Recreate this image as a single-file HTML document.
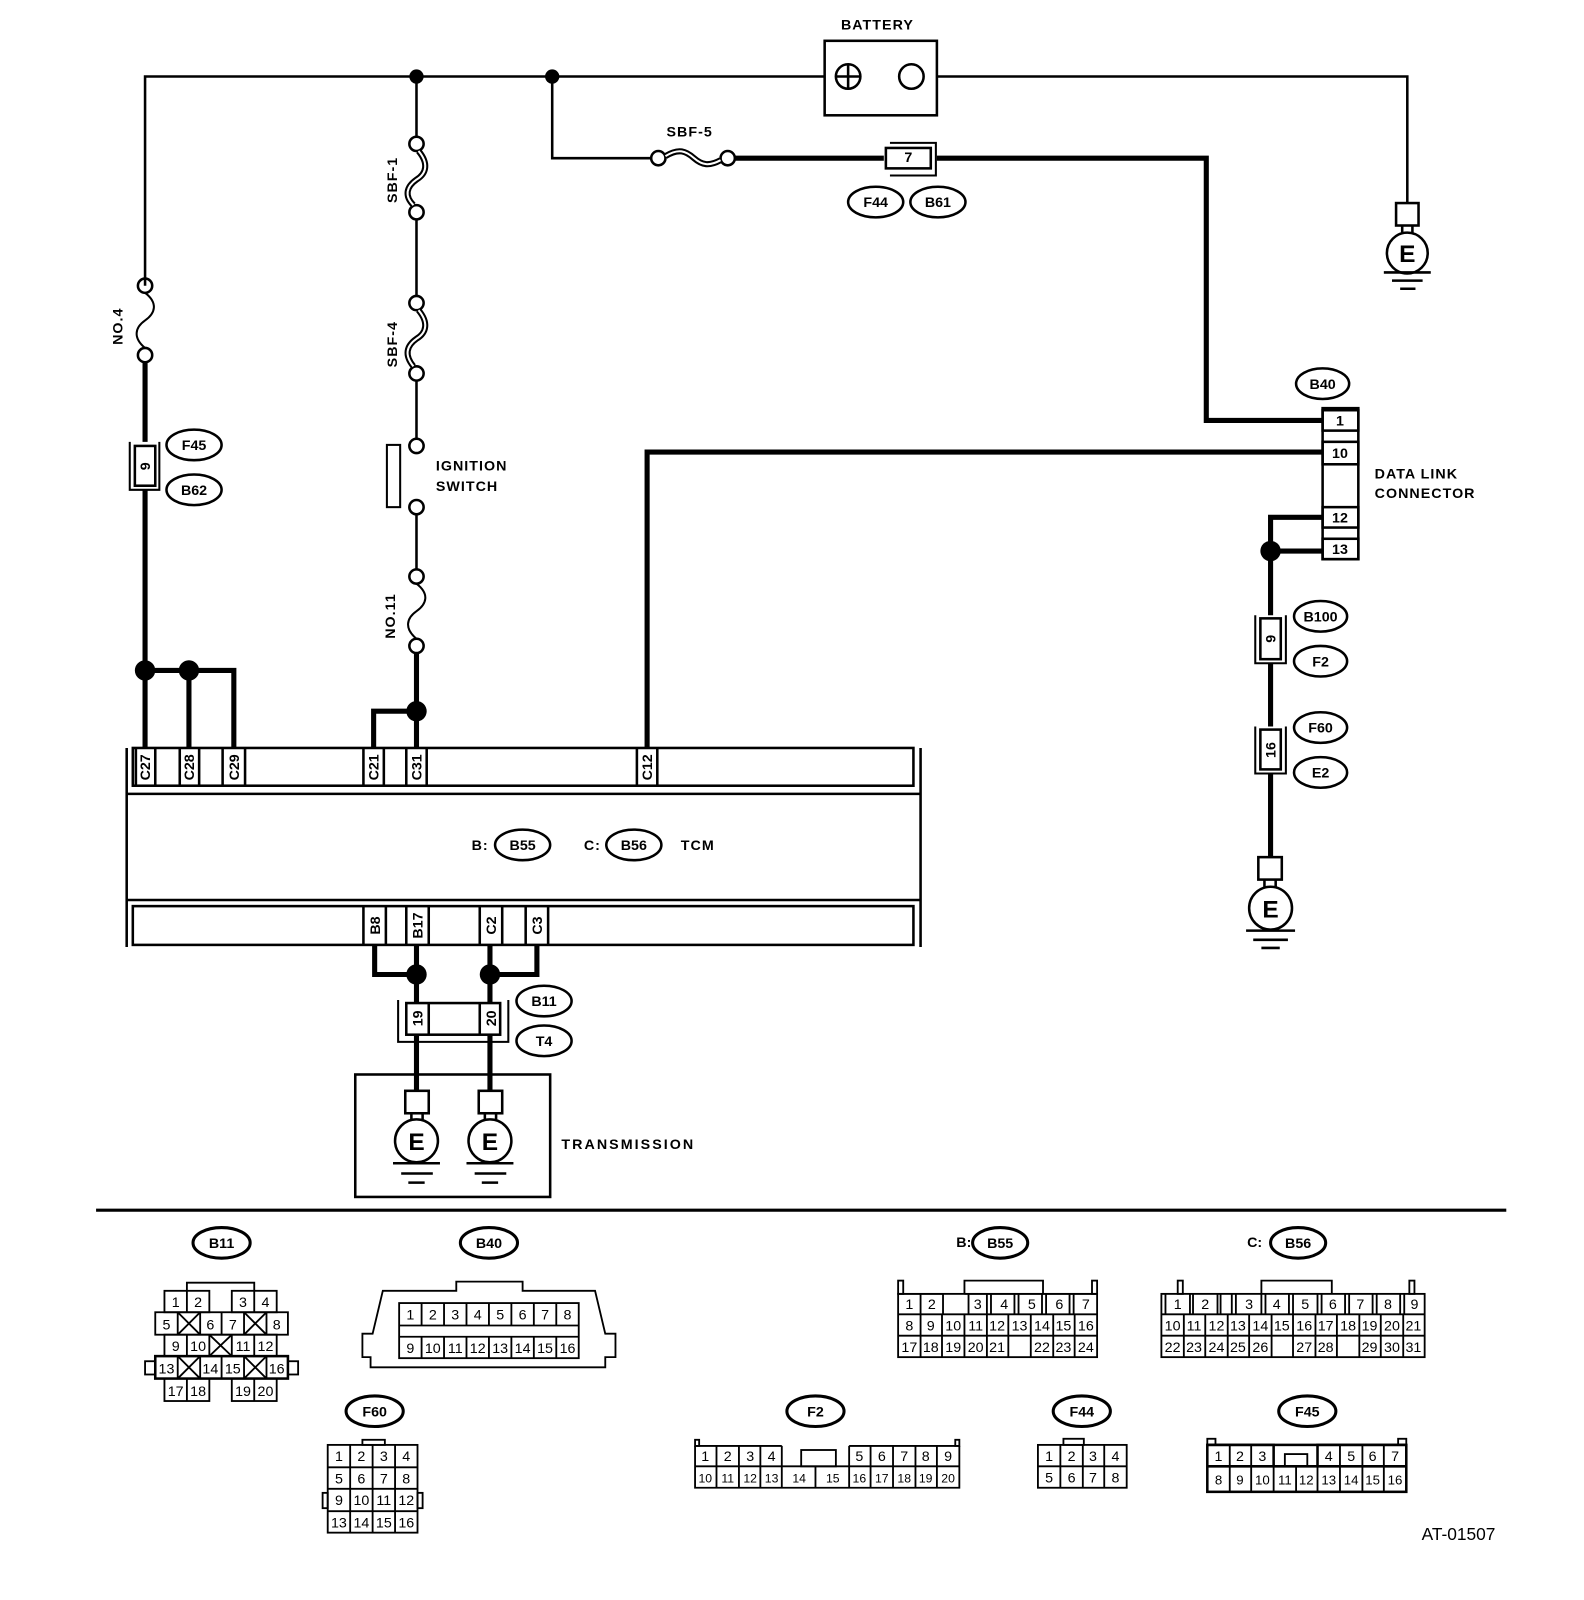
<!DOCTYPE html>
<html><head><meta charset="utf-8"><style>
html,body{margin:0;padding:0;background:#fff}
svg{display:block}
text{font-family:"Liberation Sans",sans-serif;font-weight:bold;fill:#000}
text.n,.n text{font-weight:normal}
</style></head><body>
<svg width="1584" height="1600" viewBox="0 0 1552 1568" xmlns="http://www.w3.org/2000/svg">
<g fill="none" stroke="#000" stroke-width="2.5">
<path d="M142,280 V75 H808 M918,75 H1379 V199"/>
<rect x="808" y="40" width="110" height="73"/>
<circle cx="831" cy="75" r="12"/><path d="M831,63 V87 M819,75 H843"/>
<circle cx="893" cy="75" r="12"/>
<path d="M541,75 V155 H638"/>
<circle cx="645" cy="155" r="7"/><circle cx="713" cy="155" r="7"/>
<path d="M652,153 C665,145 672,148 680,155 C688,162 695,163 706,157" stroke-width="6"/>
<path d="M652,153 C665,145 672,148 680,155 C688,162 695,163 706,157" stroke="#fff" stroke-width="2"/>
<path d="M720,155 H866 M918,155 H1182 V412 H1296" stroke-width="5"/>
<path d="M872,140 H917 V172 H872" stroke-width="2"/>
<rect x="868" y="145" width="44" height="20" fill="#fff" stroke-width="2.5"/>
<circle cx="142" cy="280" r="7"/><circle cx="142" cy="348" r="7"/>
<path d="M142,287 C155,297 152,307 142,314 C132,321 130,331 142,341" stroke-width="2"/>
<path d="M142,355 V433 M142,480 V733" stroke-width="5"/>
<path d="M127,433 V480 H156 V433" stroke-width="2"/>
<rect x="132" y="437" width="20" height="39" fill="#fff" stroke-width="2.5"/>
<path d="M142,657 H229 V733 M185,657 V733" stroke-width="5"/>
<path d="M408,75 V134 M408,215 V290 M408,373 V430 M408,504 V558"/>
<circle cx="408" cy="141" r="7"/><circle cx="408" cy="208" r="7"/>
<circle cx="408" cy="297" r="7"/><circle cx="408" cy="366" r="7"/>
<path d="M410,148 C420,160 418,170 408,176 C398,183 396,192 405,201" stroke-width="6"/>
<path d="M410,148 C420,160 418,170 408,176 C398,183 396,192 405,201" stroke="#fff" stroke-width="2"/>
<path d="M410,304 C420,316 418,326 408,332 C398,339 396,348 405,359" stroke-width="6"/>
<path d="M410,304 C420,316 418,326 408,332 C398,339 396,348 405,359" stroke="#fff" stroke-width="2"/>
<circle cx="408" cy="437" r="7"/><rect x="379" y="436" width="13" height="61" stroke-width="2"/>
<circle cx="408" cy="497" r="7"/>
<circle cx="408" cy="565" r="7"/><circle cx="408" cy="633" r="7"/>
<path d="M408,572 C421,582 418,592 408,599 C398,606 396,616 408,626" stroke-width="2"/>
<path d="M408,640 V733 M408,697 H366 V733" stroke-width="5"/>
<path d="M634,733 V443 H1296" stroke-width="5"/>
<rect x="1296" y="400" width="35" height="148" stroke-width="2.5"/>
<rect x="1296" y="402" width="35" height="20" stroke-width="2.5"/>
<rect x="1296" y="433" width="35" height="22" stroke-width="2.5"/>
<rect x="1296" y="497" width="35" height="20" stroke-width="2.5"/>
<rect x="1296" y="528" width="35" height="20" stroke-width="2.5"/>
<path d="M1296,507 H1245 V603 M1245,540 H1296 M1245,650 V712 M1245,758 V840" stroke-width="5"/>
<path d="M1230,603 V650 H1260 V603 M1230,712 V758 H1260 V712" stroke-width="2"/>
<rect x="1235" y="606" width="20" height="40" fill="#fff" stroke-width="2.5"/>
<rect x="1235" y="715" width="20" height="39" fill="#fff" stroke-width="2.5"/>
<rect x="1368" y="199" width="22" height="22"/>
<path d="M1374,221 V228 M1384,221 V228"/><circle cx="1379" cy="248" r="20"/>
<path d="M1356,267 H1402 M1364,275 H1394 M1372,283 H1387"/>
<rect x="1233" y="840" width="23" height="22"/>
<path d="M1239,862 V869 M1250,862 V869"/><circle cx="1245" cy="890" r="21"/>
<path d="M1221,912 H1269 M1228,921 H1262 M1236,929 H1254"/>
<rect x="397" y="1069" width="23" height="22"/>
<path d="M403,1091 V1097 M414,1091 V1097"/><circle cx="408" cy="1118" r="21"/>
<path d="M385,1140 H431 M393,1150 H424 M400,1159 H416"/>
<rect x="469" y="1069" width="23" height="22"/>
<path d="M475,1091 V1097 M486,1091 V1097"/><circle cx="480" cy="1118" r="21"/>
<path d="M457,1140 H503 M465,1150 H496 M472,1159 H488"/>
<path d="M124,733 V928 M902,733 V928"/>
<rect x="130" y="733" width="765" height="37"/>
<path d="M124,778 H902 M124,882 H902"/>
<rect x="130" y="888" width="765" height="38"/>
<path d="M133,733 V770 M152,733 V770 M176,733 V770 M195,733 V770 M218,733 V770 M240,733 V770 M356,733 V770 M376,733 V770 M398,733 V770 M418,733 V770 M624,733 V770 M644,733 V770"/>
<path d="M356,888 V926 M378,888 V926 M398,888 V926 M420,888 V926 M470,888 V926 M492,888 V926 M515,888 V926 M537,888 V926"/>
<path d="M367,926 V955 H408 M408,926 V983 M480,926 V983 M526,926 V955 H480 M408,1015 V1069 M480,1015 V1069" stroke-width="5"/>
<path d="M390,980 V1021 H498 V980" stroke-width="2"/>
<rect x="398" y="983" width="92" height="31" fill="#fff" stroke-width="2.5"/>
<path d="M420,983 V1014 M470,983 V1014" stroke-width="2.5"/>
<rect x="348" y="1053" width="191" height="120"/>
<path d="M94,1186 H1476" stroke-width="3"/>
<ellipse cx="190" cy="436" rx="27" ry="15"/><ellipse cx="190" cy="480" rx="27" ry="15"/>
<ellipse cx="858" cy="198" rx="27" ry="15"/><ellipse cx="919" cy="198" rx="27" ry="15"/>
<ellipse cx="1296" cy="376" rx="26" ry="15"/>
<ellipse cx="1294" cy="604" rx="26" ry="15"/><ellipse cx="1294" cy="648" rx="26" ry="15"/>
<ellipse cx="1294" cy="713" rx="26" ry="15"/><ellipse cx="1294" cy="757" rx="26" ry="15"/>
<ellipse cx="512" cy="828" rx="27" ry="15"/><ellipse cx="621" cy="828" rx="27" ry="15"/>
<ellipse cx="533" cy="981" rx="27" ry="15"/><ellipse cx="533" cy="1020" rx="27" ry="15"/>
<ellipse cx="217" cy="1218" rx="28" ry="15" stroke-width="3"/>
<ellipse cx="479" cy="1218" rx="28" ry="15" stroke-width="3"/>
<ellipse cx="980" cy="1218" rx="27" ry="15" stroke-width="3"/>
<ellipse cx="1272" cy="1218" rx="27" ry="15" stroke-width="3"/>
<ellipse cx="367" cy="1383" rx="28" ry="15" stroke-width="3"/>
<ellipse cx="799" cy="1383" rx="28" ry="15" stroke-width="3"/>
<ellipse cx="1060" cy="1383" rx="28" ry="15" stroke-width="3"/>
<ellipse cx="1281" cy="1383" rx="28" ry="15" stroke-width="3"/>
</g>
<g fill="#000">
<circle cx="408" cy="75" r="7"/><circle cx="541" cy="75" r="7"/>
<circle cx="142" cy="657" r="10"/><circle cx="185" cy="657" r="10"/>
<circle cx="408" cy="697" r="10"/><circle cx="1245" cy="540" r="10"/>
<circle cx="408" cy="955" r="10"/><circle cx="480" cy="955" r="10"/>
</g>
<g font-size="14" letter-spacing="1">
<text x="824" y="29">BATTERY</text>
<text x="653" y="134">SBF-5</text>
<text x="427" y="461">IGNITION</text><text x="427" y="481">SWITCH</text>
<text x="1347" y="469">DATA LINK</text><text x="1347" y="488">CONNECTOR</text>
<text x="550" y="1126" letter-spacing="2">TRANSMISSION</text>
<text x="462" y="833">B:</text><text x="572" y="833">C:</text><text x="667" y="833">TCM</text>
<text transform="translate(120,338) rotate(-90)">NO.4</text>
<text transform="translate(389,199) rotate(-90)">SBF-1</text>
<text transform="translate(389,360) rotate(-90)">SBF-4</text>
<text transform="translate(387,626) rotate(-90)">NO.11</text>
</g>
<g font-size="14" text-anchor="middle">
<text x="190" y="441">F45</text><text x="190" y="485">B62</text>
<text x="858" y="203">F44</text><text x="919" y="203">B61</text>
<text x="1296" y="381">B40</text>
<text x="1294" y="609">B100</text><text x="1294" y="653">F2</text>
<text x="1294" y="718">F60</text><text x="1294" y="762">E2</text>
<text x="512" y="833">B55</text><text x="621" y="833">B56</text>
<text x="533" y="986">B11</text><text x="533" y="1025">T4</text>
<text x="890" y="159">7</text>
<text x="1313" y="417">1</text><text x="1313" y="449">10</text>
<text x="1313" y="512">12</text><text x="1313" y="543">13</text>
<text x="1379" y="257" font-size="24">E</text>
<text x="1245" y="899" font-size="24">E</text>
<text x="408" y="1127" font-size="24">E</text>
<text x="480" y="1127" font-size="24">E</text>
<text transform="translate(147,457) rotate(-90)">9</text>
<text transform="translate(1250,626) rotate(-90)">9</text>
<text transform="translate(1250,735) rotate(-90)">16</text>
<text transform="translate(147,752) rotate(-90)">C27</text>
<text transform="translate(190,752) rotate(-90)">C28</text>
<text transform="translate(234,752) rotate(-90)">C29</text>
<text transform="translate(371,752) rotate(-90)">C21</text>
<text transform="translate(413,752) rotate(-90)">C31</text>
<text transform="translate(639,752) rotate(-90)">C12</text>
<text transform="translate(372,907) rotate(-90)">B8</text>
<text transform="translate(414,907) rotate(-90)">B17</text>
<text transform="translate(486,907) rotate(-90)">C2</text>
<text transform="translate(531,907) rotate(-90)">C3</text>
<text transform="translate(414,998) rotate(-90)">19</text>
<text transform="translate(486,998) rotate(-90)">20</text>
<text x="217" y="1223">B11</text><text x="479" y="1223">B40</text>
<text x="980" y="1223">B55</text><text x="1272" y="1223">B56</text>
<text x="367" y="1388">F60</text><text x="799" y="1388">F2</text>
<text x="1060" y="1388">F44</text><text x="1281" y="1388">F45</text>
</g>
<text x="937" y="1222" font-size="14">B:</text>
<text x="1222" y="1222" font-size="14">C:</text>
<text x="1393" y="1509" font-size="17" class="n">AT-01507</text>

<g fill="none" stroke="#000" stroke-width="1.8">
<path d="M183,1265 V1257 H249 V1265"/>
<rect x="161" y="1265" width="44" height="21"/><rect x="227" y="1265" width="44" height="21"/><path d="M183,1265 V1286 M249,1265 V1286"/>
<rect x="152" y="1286" width="130" height="22"/><path d="M174,1286 V1308 M196,1286 V1308 M217,1286 V1308 M239,1286 V1308 M261,1286 V1308 M174,1286 L196,1308 M196,1286 L174,1308 M239,1286 L261,1308 M261,1286 L239,1308"/>
<rect x="161" y="1308" width="110" height="21"/><path d="M183,1308 V1329 M205,1308 V1329 M227,1308 V1329 M249,1308 V1329 M205,1308 L227,1329 M227,1308 L205,1329"/>
<rect x="152" y="1329" width="130" height="22" stroke-width="2.5"/><path d="M174,1329 V1351 M196,1329 V1351 M217,1329 V1351 M239,1329 V1351 M261,1329 V1351 M174,1329 L196,1351 M196,1329 L174,1351 M239,1329 L261,1351 M261,1329 L239,1351"/>
<rect x="142" y="1334" width="10" height="13"/><rect x="282" y="1334" width="10" height="13"/>
<rect x="161" y="1351" width="44" height="22"/><rect x="227" y="1351" width="44" height="22"/><path d="M183,1351 V1373 M249,1351 V1373"/>
<path d="M375,1265 H447 V1256 H512 V1265 H583 L593,1307 H603 V1330 H593 V1340 H363 V1330 H355 V1307 H365 Z"/>
<rect x="391" y="1277" width="176" height="54"/><path d="M391,1299 H567 M391,1310 H567"/>
<path d="M413,1277 V1299 M435,1277 V1299 M457,1277 V1299 M479,1277 V1299 M501,1277 V1299 M523,1277 V1299 M545,1277 V1299 M413,1310 V1331 M435,1310 V1331 M457,1310 V1331 M479,1310 V1331 M501,1310 V1331 M523,1310 V1331 M545,1310 V1331"/>
<rect x="355" y="1411" width="22" height="5"/>
<rect x="321" y="1416" width="88" height="86"/>
<path d="M343,1416 V1502 M365,1416 V1502 M387,1416 V1502 M321,1438 H409 M321,1459 H409 M321,1481 H409"/>
<rect x="316" y="1463" width="5" height="15"/><rect x="409" y="1463" width="5" height="15"/>
<rect x="880" y="1255" width="5" height="13"/><rect x="1070" y="1255" width="5" height="13"/>
<path d="M945,1268 V1255 H1022 V1268"/>
<path d="M880,1268 H924 V1288 M945,1268 H1075"/>
<rect x="880" y="1268" width="195" height="62"/>
<path d="M902,1268 V1288 M949,1268 V1288 M967,1268 V1288 M971,1268 V1288 M994,1268 V1288 M998,1268 V1288 M1021,1268 V1288 M1025,1268 V1288 M1048,1268 V1288 M1052,1268 V1288"/>
<path d="M880,1288 H1075 M880,1309 H1075"/>
<path d="M902,1288 V1330 M923,1288 V1330 M945,1288 V1330 M967,1288 V1330 M988,1288 V1330 M1010,1288 V1330 M1032,1288 V1330 M1053,1288 V1330"/>
<rect x="1154" y="1255" width="5" height="13"/><rect x="1381" y="1255" width="5" height="13"/>
<path d="M1236,1268 V1255 H1305 V1268"/>
<rect x="1138" y="1268" width="258" height="62"/>
<path d="M1142,1268 V1288 M1166,1268 V1288 M1169,1268 V1288 M1193,1268 V1288 M1196,1268 V1288 M1207,1268 V1288 M1211,1268 V1288 M1236,1268 V1288 M1240,1268 V1288 M1263,1268 V1288 M1267,1268 V1288 M1291,1268 V1288 M1295,1268 V1288 M1318,1268 V1288 M1322,1268 V1288 M1345,1268 V1288 M1349,1268 V1288 M1372,1268 V1288 M1376,1268 V1288"/>
<path d="M1138,1288 H1396 M1138,1309 H1396"/>
<path d="M1160,1288 V1330 M1181,1288 V1330 M1203,1288 V1330 M1224,1288 V1330 M1246,1288 V1330 M1267,1288 V1330 M1289,1288 V1330 M1310,1288 V1330 M1332,1288 V1330 M1353,1288 V1330 M1375,1288 V1330"/>
<rect x="681" y="1411" width="4" height="6"/><rect x="936" y="1411" width="4" height="6"/>
<path d="M681,1417 H766 M832,1417 H940 M681,1417 V1458 H940 V1417 M681,1437 H940"/>
<rect x="785" y="1421" width="34" height="16"/>
<path d="M702,1417 V1458 M724,1417 V1458 M745,1417 V1458 M766,1417 V1458 M799,1437 V1458 M832,1417 V1458 M853,1417 V1458 M875,1417 V1458 M897,1417 V1458 M918,1417 V1458"/>
<rect x="1042" y="1410" width="20" height="6"/>
<rect x="1017" y="1416" width="87" height="42"/>
<path d="M1017,1437 H1104 M1039,1416 V1458 M1061,1416 V1458 M1082,1416 V1458"/>
<rect x="1183" y="1410" width="8" height="6"/><rect x="1370" y="1410" width="8" height="6"/>
<path d="M1183,1416 H1248 V1437 M1291,1437 V1416 H1378" stroke-width="2.5"/>
<rect x="1183" y="1416" width="195" height="46" stroke-width="2.5"/>
<path d="M1183,1437 H1378" stroke-width="2.5"/>
<rect x="1259" y="1425" width="22" height="12"/>
<path d="M1205,1416 V1462 M1226,1416 V1462 M1248,1437 V1462 M1270,1437 V1462 M1313,1416 V1462 M1335,1416 V1462 M1356,1416 V1462 M1291,1437 V1462"/>
</g>
<g class="n" font-size="14" text-anchor="middle">
<text x="172" y="1281">1</text><text x="194" y="1281">2</text><text x="238" y="1281">3</text><text x="260" y="1281">4</text>
<text x="163" y="1303">5</text><text x="206" y="1303">6</text><text x="228" y="1303">7</text><text x="271" y="1303">8</text>
<text x="172" y="1324">9</text><text x="194" y="1324">10</text><text x="238" y="1324">11</text><text x="260" y="1324">12</text>
<text x="163" y="1346">13</text><text x="206" y="1346">14</text><text x="228" y="1346">15</text><text x="271" y="1346">16</text>
<text x="172" y="1368">17</text><text x="194" y="1368">18</text><text x="238" y="1368">19</text><text x="260" y="1368">20</text>
<text x="402" y="1293">1</text><text x="424" y="1293">2</text><text x="446" y="1293">3</text><text x="468" y="1293">4</text><text x="490" y="1293">5</text><text x="512" y="1293">6</text><text x="534" y="1293">7</text><text x="556" y="1293">8</text>
<text x="402" y="1326">9</text><text x="424" y="1326">10</text><text x="446" y="1326">11</text><text x="468" y="1326">12</text><text x="490" y="1326">13</text><text x="512" y="1326">14</text><text x="534" y="1326">15</text><text x="556" y="1326">16</text>
<text x="332" y="1432">1</text><text x="354" y="1432">2</text><text x="376" y="1432">3</text><text x="398" y="1432">4</text>
<text x="332" y="1454">5</text><text x="354" y="1454">6</text><text x="376" y="1454">7</text><text x="398" y="1454">8</text>
<text x="332" y="1475">9</text><text x="354" y="1475">10</text><text x="376" y="1475">11</text><text x="398" y="1475">12</text>
<text x="332" y="1497">13</text><text x="354" y="1497">14</text><text x="376" y="1497">15</text><text x="398" y="1497">16</text>
<text x="891" y="1283">1</text><text x="913" y="1283">2</text><text x="958" y="1283">3</text><text x="984" y="1283">4</text><text x="1011" y="1283">5</text><text x="1038" y="1283">6</text><text x="1064" y="1283">7</text>
<text x="891" y="1304">8</text><text x="912" y="1304">9</text><text x="934" y="1304">10</text><text x="956" y="1304">11</text><text x="977" y="1304">12</text><text x="999" y="1304">13</text><text x="1021" y="1304">14</text><text x="1042" y="1304">15</text><text x="1064" y="1304">16</text>
<text x="891" y="1325">17</text><text x="912" y="1325">18</text><text x="934" y="1325">19</text><text x="956" y="1325">20</text><text x="977" y="1325">21</text><text x="1021" y="1325">22</text><text x="1042" y="1325">23</text><text x="1064" y="1325">24</text>
<text x="1154" y="1283">1</text><text x="1181" y="1283">2</text><text x="1224" y="1283">3</text><text x="1251" y="1283">4</text><text x="1279" y="1283">5</text><text x="1306" y="1283">6</text><text x="1333" y="1283">7</text><text x="1360" y="1283">8</text><text x="1386" y="1283">9</text>
<text x="1149" y="1304">10</text><text x="1170" y="1304">11</text><text x="1192" y="1304">12</text><text x="1213" y="1304">13</text><text x="1235" y="1304">14</text><text x="1256" y="1304">15</text><text x="1278" y="1304">16</text><text x="1299" y="1304">17</text><text x="1321" y="1304">18</text><text x="1342" y="1304">19</text><text x="1364" y="1304">20</text><text x="1385" y="1304">21</text>
<text x="1149" y="1325">22</text><text x="1170" y="1325">23</text><text x="1192" y="1325">24</text><text x="1213" y="1325">25</text><text x="1235" y="1325">26</text><text x="1278" y="1325">27</text><text x="1299" y="1325">28</text><text x="1342" y="1325">29</text><text x="1364" y="1325">30</text><text x="1385" y="1325">31</text>
<text x="691" y="1432">1</text><text x="713" y="1432">2</text><text x="735" y="1432">3</text><text x="756" y="1432">4</text><text x="842" y="1432">5</text><text x="864" y="1432">6</text><text x="886" y="1432">7</text><text x="907" y="1432">8</text><text x="929" y="1432">9</text>
<g font-size="12"><text x="691" y="1453">10</text><text x="713" y="1453">11</text><text x="735" y="1453">12</text><text x="756" y="1453">13</text><text x="783" y="1453">14</text><text x="816" y="1453">15</text><text x="842" y="1453">16</text><text x="864" y="1453">17</text><text x="886" y="1453">18</text><text x="907" y="1453">19</text><text x="929" y="1453">20</text></g>
<text x="1028" y="1432">1</text><text x="1050" y="1432">2</text><text x="1071" y="1432">3</text><text x="1093" y="1432">4</text>
<text x="1028" y="1453">5</text><text x="1050" y="1453">6</text><text x="1071" y="1453">7</text><text x="1093" y="1453">8</text>
<text x="1194" y="1432">1</text><text x="1215" y="1432">2</text><text x="1237" y="1432">3</text><text x="1302" y="1432">4</text><text x="1324" y="1432">5</text><text x="1345" y="1432">6</text><text x="1367" y="1432">7</text>
<g font-size="13"><text x="1194" y="1455">8</text><text x="1215" y="1455">9</text><text x="1237" y="1455">10</text><text x="1259" y="1455">11</text><text x="1280" y="1455">12</text><text x="1302" y="1455">13</text><text x="1324" y="1455">14</text><text x="1345" y="1455">15</text><text x="1367" y="1455">16</text></g>
</g>
</svg>
</body></html>
